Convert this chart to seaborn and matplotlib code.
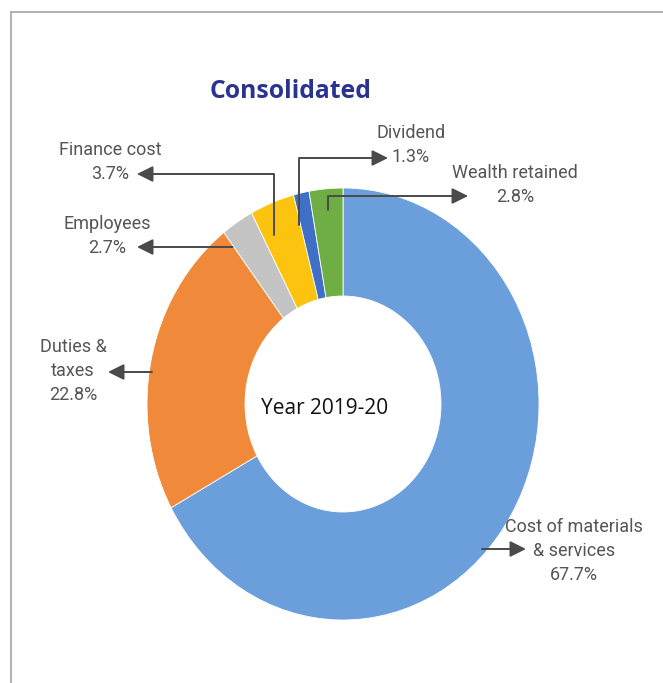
import matplotlib
matplotlib.use('Agg')
import matplotlib.pyplot as plt
from matplotlib.lines import Line2D
import numpy as np
import seaborn as sns

# data (clockwise from 12 o'clock)
categories = ['Cost of materials\n& services', 'Duties &\ntaxes', 'Employees',
              'Finance cost', 'Dividend', 'Wealth retained']
shares = [67.7, 22.8, 2.7, 3.7, 1.3, 2.8]
colors = ['#6a9fdb', '#f08a3a', '#c4c4c4', '#fcc30f', '#3f6fc6', '#6fad45']
center_text = 'Year 2019-20'
title = 'Consolidated'

sns.set_theme(style='white')
plt.rcParams['font.family'] = ['Roboto', 'DejaVu Sans']

W, H = 663, 683
fig = plt.figure(figsize=(W / 100, H / 100), dpi=100)

# pie centre / radii in pixels
cx, cy, rx, ry = 343, 404, 196, 216
ax = fig.add_axes([(cx - rx) / W, (H - cy - ry) / H, 2 * rx / W, 2 * ry / H])

wedges, _ = ax.pie(shares, colors=colors, startangle=90, counterclock=False,
                   radius=1, wedgeprops=dict(width=0.5, edgecolor='white', linewidth=0.6))
ax.set_xlim(-1, 1)
ax.set_ylim(-1, 1)
ax.set_aspect('auto')
ax.axis('off')


def pix(x, y):
    # pixel position -> data coords of the pie axes
    return ((x - cx) / rx, (cy - y) / ry)


def on_wedge(i, r=0.86, shift=0.0):
    w = wedges[i]
    a = np.deg2rad((w.theta1 + w.theta2) / 2 + shift)
    return (r * np.cos(a), r * np.sin(a))


ax.text(*pix(325, 408), center_text, ha='center', va='center',
        fontsize=15, family=['Open Sans', 'DejaVu Sans'], color='#111111')

txt = dict(ha='center', va='center', fontsize=13, color='#555555', linespacing=1.4)
arrow = dict(arrowstyle='-|>,head_length=0.6,head_width=0.3', color='#4a4a4a',
             lw=1.4, mutation_scale=16, shrinkA=0, shrinkB=0)
elbow = dict(arrow, connectionstyle='angle,angleA=90,angleB=0,rad=0')
ann = dict(annotation_clip=False, zorder=5)

labels = [f'{c}\n{v}%' for c, v in zip(categories, shares)]

# Cost of materials
ax.text(*pix(574, 551), labels[0], **txt)
ax.annotate('', xy=pix(526, 549), xytext=pix(482, 549), arrowprops=arrow, **ann)

# Duties & taxes
ax.text(*pix(73, 371), labels[1], **txt)
ax.annotate('', xy=pix(108, 372), xytext=pix(152, 372), arrowprops=arrow, **ann)

# Employees
ax.text(*pix(107, 236), labels[2], **txt)
s = on_wedge(2)
ax.annotate('', xy=pix(137, 247), xytext=(s[0] - 0.1, pix(0, 247)[1]), arrowprops=arrow, **ann)

# Finance cost (elbow up then left)
ax.text(*pix(110, 162), labels[3], **txt)
ax.annotate('', xy=pix(137, 174), xytext=on_wedge(3, shift=3), arrowprops=elbow, **ann)

# Dividend (elbow up then right)
ax.text(*pix(411, 145), labels[4], **txt)
ax.annotate('', xy=pix(388, 158), xytext=on_wedge(4, shift=3), arrowprops=elbow, **ann)

# Wealth retained
ax.text(*pix(515, 185), labels[5], **txt)
ax.annotate('', xy=pix(468, 196), xytext=on_wedge(5, r=0.9), arrowprops=elbow, **ann)

fig.text(291 / W, 1 - 91 / H, title, ha='center', va='center', fontsize=17.8,
         fontweight='bold', color='#2b3390', family=['Open Sans', 'DejaVu Sans'])

# frame lines at top and left
fig.add_artist(Line2D([11 / W, 1], [1 - 12 / H, 1 - 12 / H], color='#aaaaaa', lw=1.3))
fig.add_artist(Line2D([11 / W, 11 / W], [0, 1 - 12 / H], color='#aaaaaa', lw=1.3))

fig.savefig('out.png', dpi=100)
